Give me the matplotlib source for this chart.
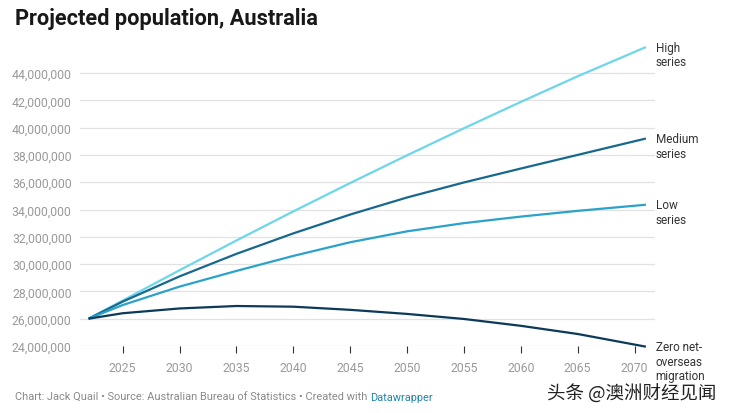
import matplotlib.pyplot as plt
from matplotlib.ticker import FuncFormatter

# data, millions of people
years = [2022, 2025, 2030, 2035, 2040, 2045, 2050, 2055, 2060, 2065, 2071]
high = [26.0, 27.33, 29.55, 31.73, 33.86, 35.94, 37.97, 39.95, 41.88, 43.76, 45.9]
medium = [26.0, 27.25, 29.1, 30.75, 32.25, 33.63, 34.88, 35.98, 37.0, 38.0, 39.2]
low = [26.0, 27.0, 28.35, 29.5, 30.6, 31.6, 32.4, 33.0, 33.48, 33.9, 34.35]
zero_nom = [26.0, 26.4, 26.75, 26.93, 26.88, 26.65, 26.35, 25.98, 25.48, 24.88, 23.95]

series_names = ["High\nseries", "Medium\nseries", "Low\nseries", "Zero net-\noverseas\nmigration"]
series_vals = [high, medium, low, zero_nom]
colors = ["#6dd6ea", "#17688c", "#2aa2c9", "#0c3a58"]

xticks = [2025, 2030, 2035, 2040, 2045, 2050, 2055, 2060, 2065, 2070]
yticks = [24, 26, 28, 30, 32, 34, 36, 38, 40, 42, 44]

plt.rcParams['font.family'] = ['Roboto', 'DejaVu Sans']

fig = plt.figure(figsize=(7.34, 4.14), dpi=100)
ax = fig.add_axes([80 / 734, 1 - 347 / 414, 575 / 734, 300.3 / 414])

for vals, c in zip(series_vals, colors):
    ax.plot(years, [v * 1e6 for v in vals], color=c, linewidth=1.6,
            solid_capstyle='butt', solid_joinstyle='round', clip_on=False, zorder=3)

# labels at the line ends
for name, vals, c in zip(series_names, series_vals, colors):
    ax.annotate(name, xy=(years[-1], vals[-1] * 1e6), xytext=(7, 4.5),
                textcoords='offset points', ha='left', va='top',
                fontsize=8.5, color='#333333', linespacing=1.15,
                annotation_clip=False)

ax.set_xlim(2021.25, 2071.8)
ax.set_ylim(24e6, 46e6)
ax.set_yticks([v * 1e6 for v in yticks])
ax.set_xticks(xticks)
ax.yaxis.set_major_formatter(FuncFormatter(lambda v, p: f"{int(round(v)):,}"))
ax.grid(axis='y', color='#e2e2e2', linewidth=0.9)
ax.set_axisbelow(True)
for s in ax.spines.values():
    s.set_visible(False)
ax.tick_params(axis='y', length=0, pad=6, labelsize=8.8, labelcolor='#9a9a9a')
ax.tick_params(axis='x', length=5, width=0.8, color='#333333', pad=6,
               labelsize=8.8, labelcolor='#9a9a9a', direction='out')

fig.text(15 / 734, 1 - 19 / 414, "Projected population, Australia",
         fontsize=15.7, fontweight='bold', color='#181818', va='center', ha='left')

footer = "Chart: Jack Quail • Source: Australian Bureau of Statistics • Created with "
t = fig.text(15 / 734, 1 - 398 / 414, footer, fontsize=7.9, color='#8a8a8a',
             va='center', ha='left')
fig.canvas.draw()
bb = t.get_window_extent()
fig.text(bb.x1 / 734, 1 - 398 / 414, "Datawrapper", fontsize=7.9, color='#1f86ad',
         va='center', ha='left')

fig.text(547 / 734, 1 - 394 / 414, "头条 @澳洲财经见闻", fontsize=13.3,
         color='#222222', va='center', ha='left',
         family=['Noto Sans CJK SC', 'DejaVu Sans'])

fig.savefig("out.png", dpi=100)
